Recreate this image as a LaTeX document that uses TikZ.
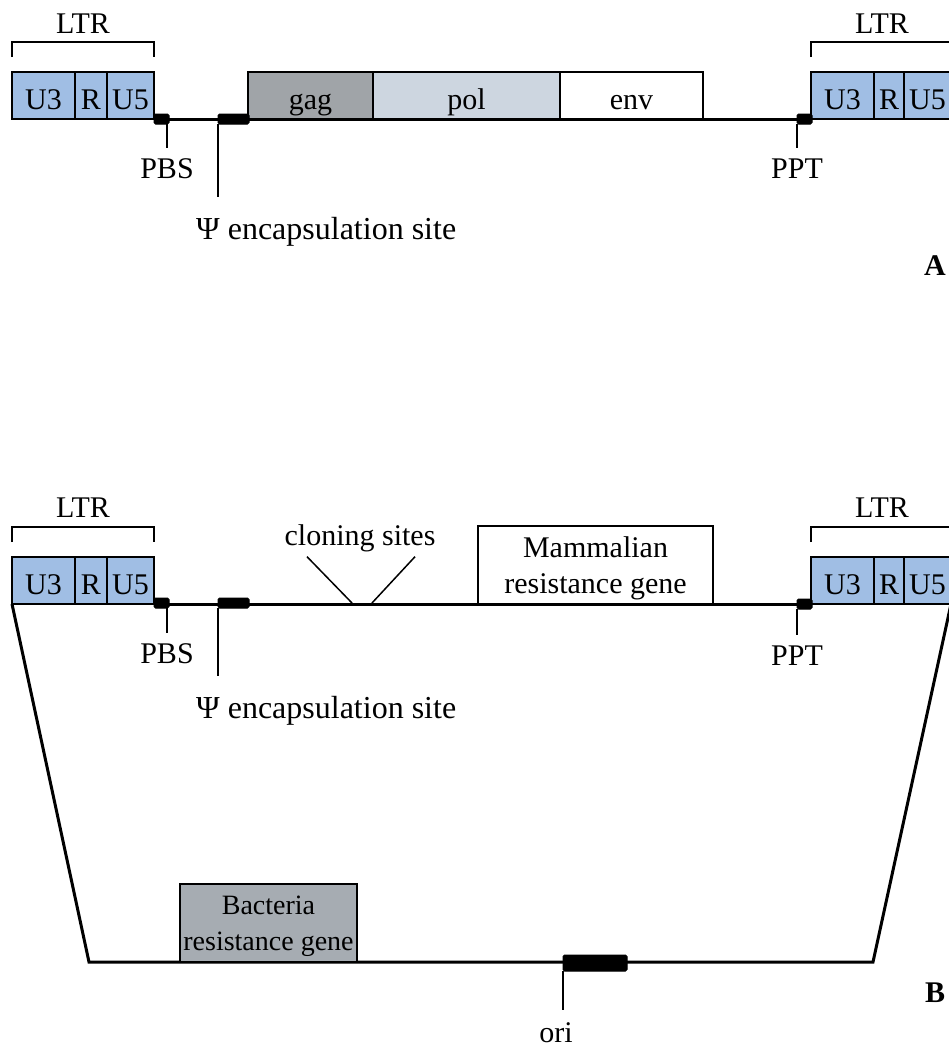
\documentclass[tikz,border=0pt]{standalone}
\usepackage{fontspec}
\setmainfont{Liberation Serif}
\usetikzlibrary{calc}
\definecolor{ltrblue}{RGB}{160,190,228}
\definecolor{gaggray}{RGB}{160,164,168}
\definecolor{polblue}{RGB}{205,214,224}
\definecolor{bacgray}{RGB}{166,172,178}
\begin{document}
\begin{tikzpicture}[x=1pt,y=-1pt,
  txt/.style={font=\fontsize{30}{36}\selectfont},
  seg/.style={txt, draw=black, line width=1.6pt, inner sep=0pt, outer sep=0pt,
              text height=37pt, text depth=10pt, minimum height=47pt},
  ltr/.style={seg, fill=ltrblue},
  lab/.style={txt, inner sep=0pt, anchor=base},
  site/.style={fill=black, draw=black, line width=1pt, rounded corners=1.5pt,
               inner sep=0pt, outer sep=0pt, minimum height=10pt},
  dna/.style={line width=3pt},
  thin/.style={line width=1.5pt},
]
\useasboundingbox (0,0) rectangle (949,1047);
\clip (0,0) rectangle (949,1047);

% ---------------- A: provirus ----------------
\node[ltr, minimum width=63pt] (u3a) at (43.5,95.5) {U3};
\node[ltr, minimum width=32pt] (ra)  at (91,95.5) {R};
\node[ltr, minimum width=47pt] (u5a) at (130.5,95.5) {U5};
\node[ltr, minimum width=63pt] (u3ar) at (842.5,95.5) {U3};
\node[ltr, minimum width=30pt] (rar)  at (889,95.5) {R};
\node[ltr, minimum width=47pt] (u5ar) at (927.5,95.5) {U5};
\draw[dna] (u5a.south east) -- (u3ar.south west);
\node[seg, fill=gaggray, minimum width=125pt] (gag) at (310.5,95.5) {gag};
\node[seg, fill=polblue, minimum width=187pt] (pol) at (466.5,95.5) {pol};
\node[seg, fill=white, minimum width=143pt] (env) at (631.5,95.5) {env};

% LTR brackets
\draw[thin] ($(u3a.north west)+(0,-15)$) -- ++(0,-15) -| ($(u5a.north east)+(0,-15)$);
\node[lab] (ltra) at (83,33) {LTR};
\draw[thin] ($(u3ar.north west)+(0,-15)$) -- ++(0,-15) -| ($(u5ar.north east)+(0,-15)$);
\node[lab] (ltrar) at (882,33) {LTR};

% sites on the provirus
\node[site, minimum width=15pt] (pbsa) at (161.5,119) {};
\node[site, minimum width=31pt] (psia) at (233.5,119) {};
\node[site, minimum width=15pt] (ppta) at (804.5,119) {};

\node[lab] (pbstxta) at (167,178) {PBS};
\draw[thin] (pbstxta.north |- pbsa.south) -- ($(pbstxta.north)+(0,-10)$);
\node[lab] (ppttxta) at (797,178) {PPT};
\draw[thin] (ppttxta.north |- ppta.south) -- ($(ppttxta.north)+(0,-10)$);
\node[lab, anchor=base west, font=\fontsize{32}{38}\selectfont] (psitxta) at (196,239) {Ψ encapsulation site};
\draw[thin] (psia.south west) -- ($(psia.south west |- psitxta.north)+(0,-20)$);

\node[lab, font=\fontsize{30}{36}\selectfont\bfseries] (labela) at (935,275) {A};

% ---------------- B: vector ----------------
\node[ltr, minimum width=63pt] (u3b) at (43.5,580.5) {U3};
\node[ltr, minimum width=32pt] (rb)  at (91,580.5) {R};
\node[ltr, minimum width=47pt] (u5b) at (130.5,580.5) {U5};
\node[ltr, minimum width=63pt] (u3br) at (842.5,580.5) {U3};
\node[ltr, minimum width=30pt] (rbr)  at (889,580.5) {R};
\node[ltr, minimum width=47pt] (u5br) at (927.5,580.5) {U5};

% plasmid part of the loop
\coordinate (bl) at (89,962);
\coordinate (br) at (873,962);
\draw[dna, line join=miter] (u3b.south west) -- (bl) -- (br) -- (u5br.south east);
\draw[dna] (u5b.south east) -- (u3br.south west);

\node[seg, fill=white, minimum width=235pt, minimum height=78pt, align=center,
  text height=67pt, text depth=11pt] (mam) at (595.5,565) {Mammalian\\resistance gene};
\node[seg, fill=bacgray, minimum width=177pt, minimum height=78pt, align=center,
  font=\fontsize{28}{36}\selectfont, text height=66pt, text depth=12pt]
  (bac) at (268.5,923) {Bacteria\\resistance gene};

\draw[thin] ($(u3b.north west)+(0,-15)$) -- ++(0,-15) -| ($(u5b.north east)+(0,-15)$);
\node[lab] (ltrb) at (83,517) {LTR};
\draw[thin] ($(u3br.north west)+(0,-15)$) -- ++(0,-15) -| ($(u5br.north east)+(0,-15)$);
\node[lab] (ltrbr) at (882,517) {LTR};

\node[site, minimum width=15pt] (pbsb) at (161.5,603) {};
\node[site, minimum width=31pt] (psib) at (233.5,603) {};
\node[site, minimum width=15pt] (pptb) at (804.5,604) {};
\node[site, minimum width=64pt, minimum height=16pt] (ori) at (595,963) {};

\node[lab] (pbstxtb) at (167,663) {PBS};
\draw[thin] (pbstxtb.north |- pbsb.south) -- ($(pbstxtb.north)+(0,-10)$);
\node[lab] (ppttxtb) at (797,665) {PPT};
\draw[thin] (ppttxtb.north |- pptb.south) -- ($(ppttxtb.north)+(0,-10)$);
\node[lab, anchor=base west, font=\fontsize{32}{38}\selectfont] (psitxtb) at (196,718) {Ψ encapsulation site};
\draw[thin] (psib.south west) -- ($(psib.south west |- psitxtb.north)+(0,-20)$);

% cloning sites
\node[lab] (clon) at (360,545) {cloning sites};
\coordinate (csl) at (352,603);
\coordinate (csr) at (372,603);
\draw[thin] ($(clon.south)+(-53,5)$) -- (csl);
\draw[thin] ($(clon.south)+(55,5)$) -- (csr);

% origin of replication
\node[lab] (oritxt) at (556,1042) {ori};
\draw[thin] (ori.south west) -- ($(ori.south west |- oritxt.north)+(0,-12)$);

\node[lab, font=\fontsize{30}{36}\selectfont\bfseries] (labelb) at (935,1002) {B};
\end{tikzpicture}
\end{document}
